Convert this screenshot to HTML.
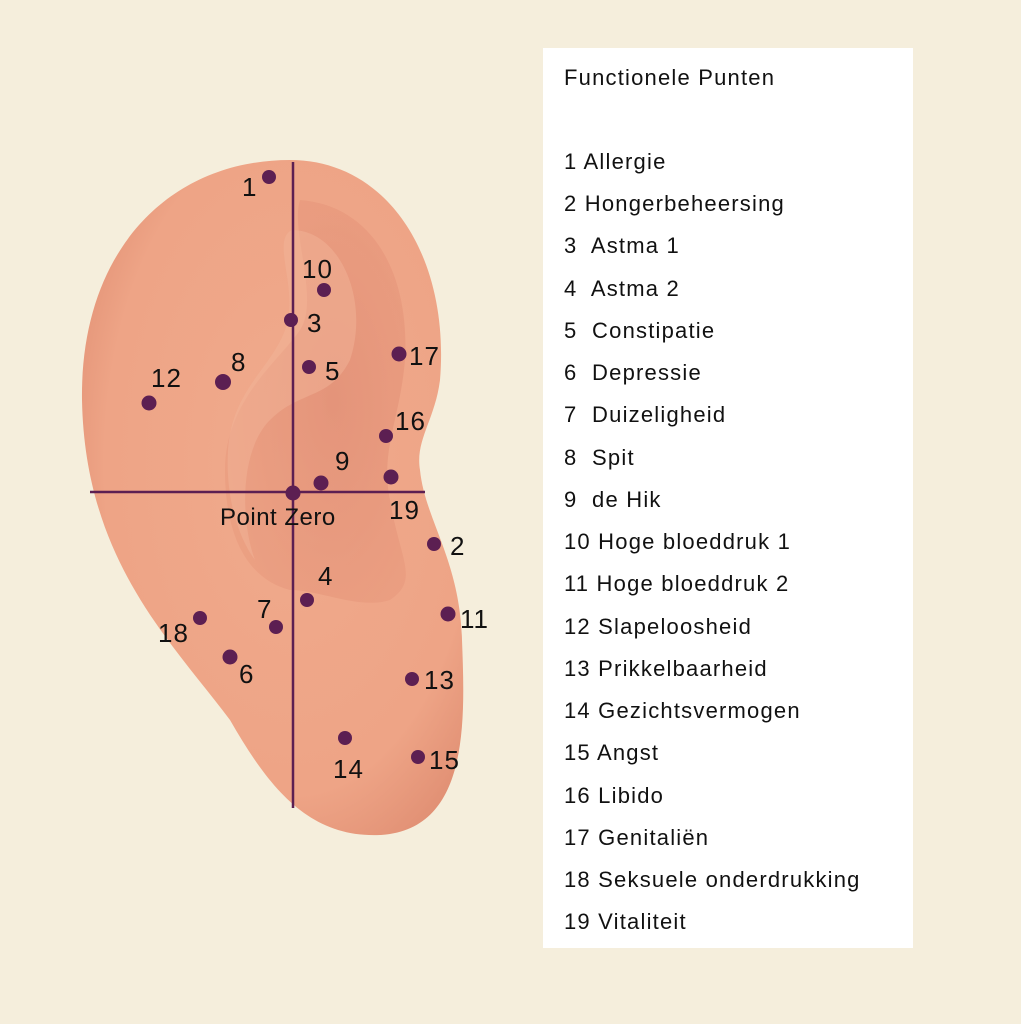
<!DOCTYPE html>
<html><head><meta charset="utf-8"><style>
body{margin:0;width:1021px;height:1024px;background:#f5eedc;overflow:hidden;font-family:"Liberation Sans",sans-serif}
text{white-space:pre}
</style></head><body>
<svg width="1021" height="1024" viewBox="0 0 1021 1024" style="position:absolute;left:0;top:0">
<defs>
<radialGradient id="g" cx="0.55" cy="0.45" r="0.7">
<stop offset="0" stop-color="#f0aa8c"/><stop offset="0.7" stop-color="#eea486"/><stop offset="1" stop-color="#dc886d"/>
</radialGradient>
<radialGradient id="c" cx="0.6" cy="0.5" r="0.6">
<stop offset="0" stop-color="#d9806a"/><stop offset="1" stop-color="#e7977b"/>
</radialGradient>
</defs>
<path d="M290,160 C390,160 450,260 440,380 C435,420 415,440 420,470 C425,520 460,560 462,640 C465,720 470,830 380,835 C310,838 270,790 230,720 C170,640 85,560 82,400 C80,250 170,160 290,160 Z" fill="url(#g)"/>
<path d="M300,200 C370,205 410,270 405,360 C400,420 380,450 390,500 C400,560 420,580 390,600 C360,610 320,590 290,590 C250,580 225,540 225,470 C225,400 280,360 300,330 C320,300 290,230 300,200 Z" fill="url(#c)" opacity="0.5"/>
<path d="M292,230 C340,230 370,300 350,360 C330,400 300,390 270,420 C240,450 240,520 255,560 C240,540 225,500 228,450 C232,390 270,370 285,330 C300,290 270,240 292,230Z" fill="#f2b497" opacity="0.5"/>
<g stroke="#5c1f52" stroke-width="2.5">
<line x1="293" y1="162" x2="293" y2="808"/>
<line x1="90" y1="492" x2="425" y2="492"/>
</g>
<g fill="#5c1f52">
<circle cx="269" cy="177" r="7"/><circle cx="324" cy="290" r="7"/><circle cx="291" cy="320" r="7"/>
<circle cx="309" cy="367" r="7"/><circle cx="223" cy="382" r="8"/><circle cx="149" cy="403" r="7.5"/>
<circle cx="399" cy="354" r="7.5"/><circle cx="386" cy="436" r="7"/><circle cx="391" cy="477" r="7.5"/>
<circle cx="321" cy="483" r="7.5"/><circle cx="293" cy="493" r="7.5"/><circle cx="434" cy="544" r="7"/>
<circle cx="307" cy="600" r="7"/><circle cx="448" cy="614" r="7.5"/><circle cx="276" cy="627" r="7"/>
<circle cx="200" cy="618" r="7"/><circle cx="230" cy="657" r="7.5"/><circle cx="412" cy="679" r="7"/>
<circle cx="345" cy="738" r="7"/><circle cx="418" cy="757" r="7"/>
</g>
<g font-size="26" fill="#111" letter-spacing="1">
<text x="242" y="196">1</text><text x="302" y="278">10</text><text x="307" y="332">3</text>
<text x="325" y="380">5</text><text x="231" y="371">8</text><text x="151" y="387">12</text>
<text x="409" y="365">17</text><text x="395" y="430">16</text><text x="335" y="470">9</text>
<text x="389" y="519">19</text><text x="220" y="525" font-size="24" letter-spacing="0.5">Point Zero</text>
<text x="450" y="555">2</text><text x="318" y="585">4</text><text x="460" y="628">11</text>
<text x="257" y="618">7</text><text x="158" y="642">18</text><text x="239" y="683">6</text>
<text x="424" y="689">13</text><text x="333" y="778">14</text><text x="429" y="769">15</text>
</g>
<rect x="543" y="48" width="370" height="900" fill="#fff"/>
<g font-size="22" fill="#111" letter-spacing="1.2">
<text x="564" y="85">Functionele Punten</text>
<text x="564" y="169">1 Allergie</text>
<text x="564" y="211">2 Hongerbeheersing</text>
<text x="564" y="253">3  Astma 1</text>
<text x="564" y="296">4  Astma 2</text>
<text x="564" y="338">5  Constipatie</text>
<text x="564" y="380">6  Depressie</text>
<text x="564" y="422">7  Duizeligheid</text>
<text x="564" y="465">8  Spit</text>
<text x="564" y="507">9  de Hik</text>
<text x="564" y="549">10 Hoge bloeddruk 1</text>
<text x="564" y="591">11 Hoge bloeddruk 2</text>
<text x="564" y="634">12 Slapeloosheid</text>
<text x="564" y="676">13 Prikkelbaarheid</text>
<text x="564" y="718">14 Gezichtsvermogen</text>
<text x="564" y="760">15 Angst</text>
<text x="564" y="803">16 Libido</text>
<text x="564" y="845">17 Genitaliën</text>
<text x="564" y="887">18 Seksuele onderdrukking</text>
<text x="564" y="929">19 Vitaliteit</text>
</g>
</svg>
</body></html>
